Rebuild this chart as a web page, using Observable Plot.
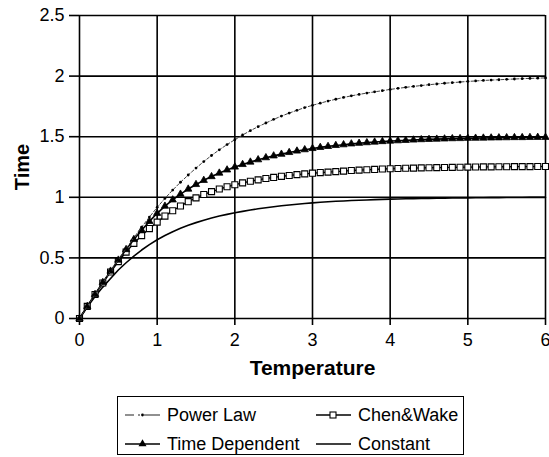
<!DOCTYPE html>
<html>
<head>
<meta charset="utf-8">
<script src="https://cdn.jsdelivr.net/npm/d3@7"></script>
<script src="https://cdn.jsdelivr.net/npm/@observablehq/plot@0.6"></script>
<style>
  html, body { margin: 0; padding: 0; background: #fff; }
  #wrap { position: relative; width: 549px; height: 457px; font-family: "Liberation Sans", Arial, sans-serif; color: #000; }
  #legend { position: absolute; left: 117px; top: 396px; width: 347px; height: 59px; border: 1.5px solid #000; box-sizing: border-box; }
  .item { position: absolute; display: flex; align-items: center; font-size: 18px; line-height: 20px; white-space: nowrap; }
  .item svg { margin-right: 7px; }
</style>
</head>
<body>
<div id="wrap"><div id="chart"></div><div id="legend"></div></div>
<script>
const xs = [0, 0.1, 0.2, 0.3, 0.4, 0.5, 0.6, 0.7, 0.8, 0.9, 1,
  1.1, 1.2, 1.3, 1.4, 1.5, 1.6, 1.7, 1.8, 1.9, 2,
  2.1, 2.2, 2.3, 2.4, 2.5, 2.6, 2.7, 2.8, 2.9, 3,
  3.1, 3.2, 3.3, 3.4, 3.5, 3.6, 3.7, 3.8, 3.9, 4,
  4.1, 4.2, 4.3, 4.4, 4.5, 4.6, 4.7, 4.8, 4.9, 5,
  5.1, 5.2, 5.3, 5.4, 5.5, 5.6, 5.7, 5.8, 5.9, 6];

const powerLaw = [0, 0.100, 0.198, 0.294, 0.391, 0.485, 0.577, 0.666, 0.754, 0.837, 0.917,
  0.991, 1.060, 1.124, 1.184, 1.241, 1.295, 1.345, 1.392, 1.435, 1.475,
  1.514, 1.550, 1.583, 1.613, 1.643, 1.670, 1.695, 1.718, 1.740, 1.759,
  1.777, 1.794, 1.809, 1.824, 1.837, 1.849, 1.860, 1.870, 1.880, 1.890,
  1.899, 1.907, 1.915, 1.922, 1.929, 1.935, 1.941, 1.946, 1.951, 1.956,
  1.960, 1.964, 1.967, 1.970, 1.973, 1.976, 1.979, 1.981, 1.983, 1.985];

const chenWake = [0, 0.100, 0.198, 0.293, 0.384, 0.469, 0.548, 0.620, 0.684, 0.742, 0.795,
  0.845, 0.889, 0.928, 0.964, 0.995, 1.023, 1.047, 1.068, 1.087, 1.104,
  1.119, 1.132, 1.144, 1.155, 1.164, 1.173, 1.180, 1.187, 1.193, 1.199,
  1.204, 1.208, 1.212, 1.216, 1.221, 1.224, 1.227, 1.230, 1.233, 1.236,
  1.238, 1.240, 1.241, 1.243, 1.244, 1.245, 1.246, 1.247, 1.248, 1.249,
  1.250, 1.251, 1.251, 1.252, 1.252, 1.253, 1.253, 1.253, 1.254, 1.254];

const timeDependent = [0, 0.100, 0.199, 0.297, 0.391, 0.482, 0.569, 0.652, 0.729, 0.801, 0.868,
  0.927, 0.979, 1.026, 1.068, 1.106, 1.140, 1.171, 1.200, 1.226, 1.250,
  1.271, 1.291, 1.310, 1.327, 1.342, 1.356, 1.370, 1.382, 1.393, 1.403,
  1.412, 1.420, 1.428, 1.434, 1.441, 1.446, 1.451, 1.456, 1.460, 1.464,
  1.467, 1.470, 1.473, 1.476, 1.478, 1.480, 1.482, 1.484, 1.485, 1.487,
  1.488, 1.489, 1.490, 1.491, 1.492, 1.493, 1.493, 1.494, 1.495, 1.495];

const constant = [0, 0.095, 0.181, 0.259, 0.330, 0.400, 0.460, 0.515, 0.565, 0.610, 0.650,
  0.685, 0.716, 0.744, 0.769, 0.791, 0.811, 0.829, 0.845, 0.859, 0.872,
  0.884, 0.895, 0.905, 0.914, 0.922, 0.930, 0.937, 0.943, 0.949, 0.954,
  0.959, 0.963, 0.967, 0.970, 0.973, 0.976, 0.978, 0.981, 0.983, 0.985,
  0.986, 0.988, 0.989, 0.990, 0.991, 0.992, 0.993, 0.994, 0.995, 0.995,
  0.996, 0.996, 0.997, 0.997, 0.998, 0.998, 0.998, 0.999, 0.999, 0.999];

const xTicks = [0, 1, 2, 3, 4, 5, 6];
const yTicks = [0, 0.5, 1, 1.5, 2, 2.5];
const seriesNames = ["Power Law", "Chen&Wake", "Time Dependent", "Constant"];
const xTitle = "Temperature";
const yTitle = "Time";

const rows = (arr) => xs.map((x, i) => ({x, y: arr[i]}));
const pl = rows(powerLaw), cw = rows(chenWake), td = rows(timeDependent), ct = rows(constant);

const chart = Plot.plot({
  width: 549,
  height: 385,
  marginTop: 15,
  marginBottom: 67,
  marginLeft: 79,
  marginRight: 4,
  x: {domain: [0, 6]},
  y: {domain: [0, 2.5]},
  style: {fontFamily: "'Liberation Sans', Arial, sans-serif", fontSize: "18px", color: "black", background: "white", overflow: "visible"},
  marks: [
    Plot.gridX({ticks: xTicks, stroke: "black", strokeOpacity: 1, strokeWidth: 1.6}),
    Plot.gridY({ticks: yTicks, stroke: "black", strokeOpacity: 1, strokeWidth: 1.6}),
    Plot.axisX({ticks: xTicks, tickSize: 7, tickPadding: 8, tickFormat: d => String(d), label: null, strokeWidth: 1.6}),
    Plot.axisY({ticks: yTicks, tickSize: 10, tickPadding: 5, tickFormat: d => String(d), label: null, strokeWidth: 1.6}),
    Plot.line(ct, {x: "x", y: "y", stroke: "black", strokeWidth: 1.6}),
    Plot.line(cw, {x: "x", y: "y", stroke: "black", strokeWidth: 1.4}),
    Plot.dot(cw, {x: "x", y: "y", symbol: "square", r: 3.4, fill: "white", stroke: "black", strokeWidth: 1.1}),
    Plot.line(td, {x: "x", y: "y", stroke: "black", strokeWidth: 1.6}),
    Plot.dot(td, {x: "x", y: "y", symbol: "triangle", r: 2.7, fill: "black", stroke: "black", strokeWidth: 0.8}),
    Plot.line(pl, {x: "x", y: "y", stroke: "#444", strokeWidth: 1, strokeDasharray: "3,2"}),
    Plot.dot(pl, {x: "x", y: "y", r: 1.4, fill: "black", stroke: "none"}),
    Plot.text([yTitle], {text: d => d, frameAnchor: "left", dx: -57, rotate: -90, textAnchor: "middle", lineAnchor: "middle", fontWeight: "bold", fontSize: 20, fill: "black"}),
    Plot.text([xTitle], {text: d => d, frameAnchor: "bottom", dy: 50, textAnchor: "middle", lineAnchor: "middle", fontWeight: "bold", fontSize: 21, fill: "black"})
  ]
});
document.getElementById("chart").appendChild(chart);

// legend
const legend = d3.select("#legend");
const pos = [
  {left: 7, top: 8}, {left: 198, top: 8},
  {left: 7, top: 37}, {left: 198, top: 37}
];
seriesNames.forEach((name, i) => {
  const item = legend.append("div").attr("class", "item")
    .style("left", pos[i].left + "px").style("top", pos[i].top + "px");
  const s = item.append("svg").attr("width", 35).attr("height", 14);
  if (i === 0) {
    s.append("line").attr("x1", 0).attr("x2", 35).attr("y1", 7).attr("y2", 7)
      .attr("stroke", "#222").attr("stroke-width", 1.2).attr("stroke-dasharray", "9,4,2,4,16");
    s.append("circle").attr("cx", 17.5).attr("cy", 7).attr("r", 1.4).attr("fill", "black");
  } else {
    s.append("line").attr("x1", 0).attr("x2", 35).attr("y1", 7).attr("y2", 7)
      .attr("stroke", "black").attr("stroke-width", 1.6);
    if (i === 1) s.append("rect").attr("x", 14).attr("y", 4).attr("width", 6).attr("height", 6)
      .attr("fill", "white").attr("stroke", "black").attr("stroke-width", 1.1);
    if (i === 2) s.append("path").attr("d", d3.symbol(d3.symbolTriangle, 28)()).attr("transform", "translate(17.5,7)")
      .attr("fill", "black");
  }
  item.append("span").text(name);
});
</script>
</body>
</html>
